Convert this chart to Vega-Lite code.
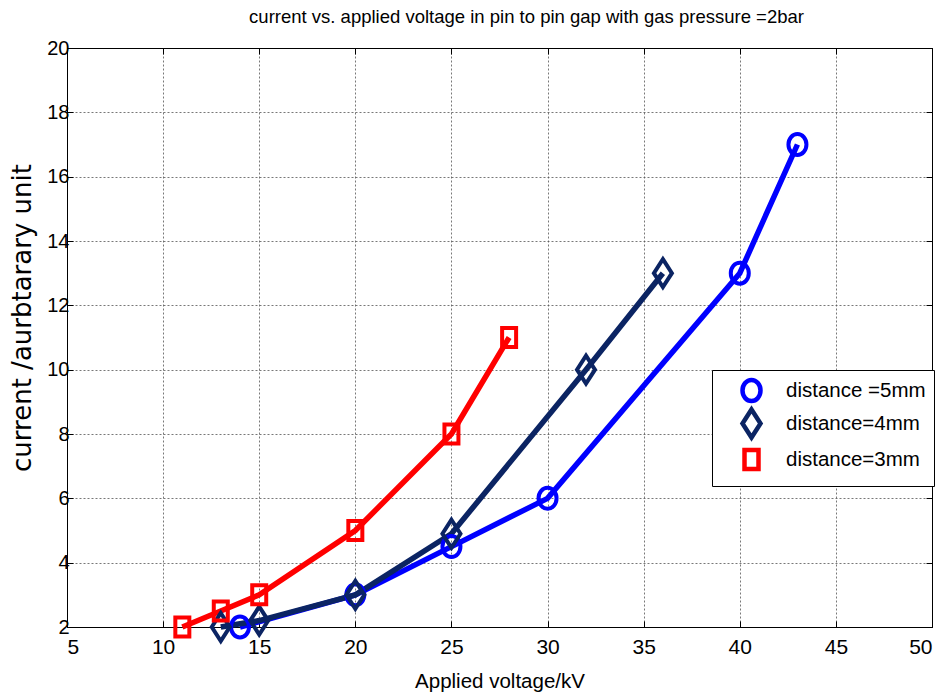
{
  "$schema": "https://vega.github.io/schema/vega-lite/v6.json",
  "width": 865,
  "height": 579,
  "autosize": "none",
  "padding": {"left": 67, "top": 48, "right": 12, "bottom": 72},
  "background": "white",
  "title": {
    "text": "current vs. applied voltage in pin to pin gap with gas pressure =2bar",
    "font": "Liberation Sans, Arial, sans-serif",
    "fontSize": 18.5,
    "fontWeight": "normal",
    "color": "black",
    "anchor": "middle",
    "dx": 27,
    "offset": 12
  },
  "data": {
    "values": [
      {"series": "distance =5mm", "voltage": 14, "current": 2},
      {"series": "distance =5mm", "voltage": 20, "current": 3},
      {"series": "distance =5mm", "voltage": 25, "current": 4.5},
      {"series": "distance =5mm", "voltage": 30, "current": 6},
      {"series": "distance =5mm", "voltage": 40, "current": 13},
      {"series": "distance =5mm", "voltage": 43, "current": 17},
      {"series": "distance=4mm", "voltage": 13, "current": 2},
      {"series": "distance=4mm", "voltage": 15, "current": 2.2},
      {"series": "distance=4mm", "voltage": 20, "current": 3},
      {"series": "distance=4mm", "voltage": 25, "current": 4.9},
      {"series": "distance=4mm", "voltage": 32, "current": 10},
      {"series": "distance=4mm", "voltage": 36, "current": 13},
      {"series": "distance=3mm", "voltage": 11, "current": 2},
      {"series": "distance=3mm", "voltage": 13, "current": 2.5},
      {"series": "distance=3mm", "voltage": 15, "current": 3},
      {"series": "distance=3mm", "voltage": 20, "current": 5},
      {"series": "distance=3mm", "voltage": 25, "current": 8},
      {"series": "distance=3mm", "voltage": 28, "current": 11}
    ]
  },
  "layer": [
    {
      "mark": {"type": "line", "strokeWidth": 5.5, "clip": false},
      "encoding": {
        "x": {
          "field": "voltage", "type": "quantitative",
          "scale": {"domain": [5, 50], "nice": false, "zero": false},
          "axis": {
            "orient": "bottom",
            "values": [5, 10, 15, 20, 25, 30, 35, 40, 45, 50],
            "labelFont": "Liberation Sans, Arial, sans-serif",
            "labelFontSize": 21,
            "labelColor": "black",
            "labelPadding": 15,
            "tickColor": "black",
            "tickSize": -6,
            "domainColor": "black",
            "grid": true,
            "gridColor": "#555",
            "gridDash": [2, 2],
            "gridWidth": 0.8,
            "title": "Applied voltage/kV",
            "titleFont": "Liberation Sans, Arial, sans-serif",
            "titleFontSize": 20.5,
            "titleFontWeight": "normal",
            "titleColor": "black",
            "titlePadding": 14
          }
        },
        "y": {
          "field": "current", "type": "quantitative",
          "scale": {"domain": [2, 20], "nice": false, "zero": false},
          "axis": {
            "orient": "left",
            "values": [2, 4, 6, 8, 10, 12, 14, 16, 18, 20],
            "labelFont": "Liberation Sans, Arial, sans-serif",
            "labelFontSize": 20,
            "labelColor": "black",
            "labelPadding": 4,
            "tickColor": "black",
            "tickSize": -6,
            "domainColor": "black",
            "grid": true,
            "gridColor": "#555",
            "gridDash": [2, 2],
            "gridWidth": 0.8,
            "title": "current /aurbtarary unit",
            "titleFont": "DejaVu Sans",
            "titleFontSize": 26,
            "titleFontWeight": "normal",
            "titleColor": "black",
            "titleX": -45,
            "titleY": 269.5,
            "titleBaseline": "middle",
            "titleAlign": "center"
          }
        },
        "color": {
          "field": "series", "type": "nominal",
          "scale": {"domain": ["distance =5mm", "distance=4mm", "distance=3mm"], "range": ["#0000ff", "#0b2463", "#ff0000"]}
        }
      }
    },
    {
      "mark": {"type": "point", "filled": false, "strokeWidth": 4, "size": 400, "opacity": 1, "clip": false},
      "encoding": {
        "x": {
          "field": "voltage", "type": "quantitative",
          "axis": {
            "orient": "top", "values": [5, 10, 15, 20, 25, 30, 35, 40, 45, 50],
            "labels": false, "title": null, "grid": false,
            "tickColor": "black", "tickSize": -6, "domainColor": "black"
          }
        },
        "y": {
          "field": "current", "type": "quantitative",
          "axis": {
            "orient": "right", "values": [2, 4, 6, 8, 10, 12, 14, 16, 18, 20],
            "labels": false, "title": null, "grid": false,
            "tickColor": "black", "tickSize": -6, "domainColor": "black"
          }
        },
        "color": {
          "field": "series", "type": "nominal",
          "legend": {
            "rowPadding": -10,
            "encode": {
              "symbols": {
                "shape": {"value": {"expr": "datum.value === 'distance =5mm' ? 'M-2.6,0H2.6M0.9,0A0.9,1 0 1,1 -0.9,0A0.9,1 0 1,1 0.9,0' : datum.value === 'distance=4mm' ? 'M-2.6,0H2.6M0,-1.35L0.85,0L0,1.35L-0.85,0Z' : 'M-2.6,0H2.6M-0.7,-0.8H0.7V0.8H-0.7Z'"}},
                "strokeWidth": {"value": 4.5},
                "opacity": {"value": 1}
              }
            }
          }
        },
        "shape": {
          "field": "series", "type": "nominal",
          "scale": {
            "domain": ["distance =5mm", "distance=4mm", "distance=3mm"],
            "range": [
              "M0.9,0A0.9,1.05 0 1,1 -0.9,0A0.9,1.05 0 1,1 0.9,0Z",
              "M0,-1.4L0.9,0L0,1.4L-0.9,0Z",
              "M-0.7,-0.95H0.7V0.95H-0.7Z"
            ]
          },
          "legend": {
            "rowPadding": -10,
            "encode": {
              "symbols": {
                "shape": {"value": {"expr": "datum.value === 'distance =5mm' ? 'M-2.6,0H2.6M0.9,0A0.9,1 0 1,1 -0.9,0A0.9,1 0 1,1 0.9,0' : datum.value === 'distance=4mm' ? 'M-2.6,0H2.6M0,-1.35L0.85,0L0,1.35L-0.85,0Z' : 'M-2.6,0H2.6M-0.7,-0.8H0.7V0.8H-0.7Z'"}},
                "strokeWidth": {"value": 4.5},
                "opacity": {"value": 1}
              }
            }
          }
        }
      }
    }
  ],
  "resolve": {"axis": {"x": "independent", "y": "independent"}},
  "config": {
    "view": {"stroke": "black", "strokeWidth": 1},
    "legend": {
      "orient": "none",
      "legendX": 645,
      "legendY": 322,
      "title": null,
      "fillColor": "white",
      "strokeColor": "black",
      "padding": 8,
      "cornerRadius": 0,
      "symbolSize": 400,
      "symbolStrokeWidth": 4.5,
      "symbolOffset": 19,
      "labelOffset": 22,
      "labelFont": "Liberation Sans, Arial, sans-serif",
      "labelFontSize": 20.5,
      "labelColor": "black",
      "labelLimit": 300
    }
  }
}
